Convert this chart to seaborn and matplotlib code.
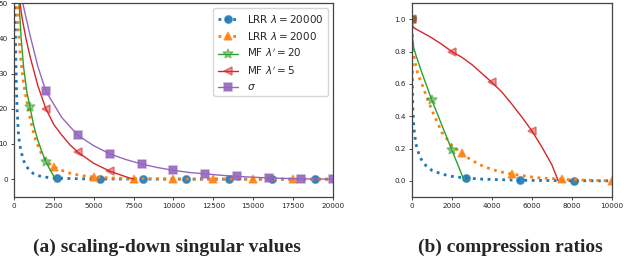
import numpy as np
import pandas as pd
import seaborn as sns
import matplotlib.pyplot as plt
from matplotlib.colors import to_rgba

# ---- series labels / styles
labels = [r"LRR $\lambda = 20000$", r"LRR $\lambda = 2000$",
          r"MF $\lambda' = 20$", r"MF $\lambda' = 5$", r"$\sigma$"]
colors = ["#1f77b4", "#ff7f0e", "#2ca02c", "#d62728", "#9467bd"]
markers = ["o", "^", "*", "<", "s"]
styles = [":", ":", "-", "-", "-"]

# ---- (a) scaling-down singular values
lrr20000_x = [30, 60, 100, 150, 200, 270, 350, 480, 600, 800, 1000, 1215, 1500, 1845, 2200,
              2700, 3300, 4000, 4700, 5400, 6700, 8100, 10800, 13500, 16200, 18900, 20000]
lrr20000_y = [80, 55, 38, 26, 19.5, 13.5, 10, 7.3, 5.3, 3.5, 2.4, 1.6, 1.0, 0.65, 0.45,
              0.3, 0.2, 0.12, 0.08, 0.06, 0.04, 0.02, 0.01, 0.0, 0.0, 0.0, 0.0]
lrr20000_marks = [2700, 5400, 8100, 10800, 13500, 16200, 18900]

lrr2000_x = [150, 210, 280, 400, 550, 700, 900, 1100, 1300, 1500, 1700, 1900, 2200, 2500,
             3000, 3500, 4000, 4500, 5000, 6000, 7500, 10000, 12500, 15000, 17500, 20000]
lrr2000_y = [62, 50, 42, 35, 29, 24.5, 20, 15.5, 12, 9.5, 7.5, 6, 4.5, 3.5,
             2.5, 1.7, 1.2, 0.85, 0.6, 0.35, 0.15, 0.06, 0.03, 0.015, 0.01, 0.0]
lrr2000_marks = [2500, 5000, 7500, 10000, 12500, 15000, 17500]

mf20_x = [250, 320, 450, 600, 800, 1000, 1250, 1500, 1750, 2000, 2200, 2400, 2600]
mf20_y = [60, 50, 40, 32, 25, 20.5, 15, 11, 7.8, 5, 3.2, 1.6, 0]
mf20_marks = [1000, 2000]

mf5_x = [300, 380, 500, 750, 1000, 1500, 2000, 2500, 3000, 3500, 4000, 5000, 6000, 6500, 7000, 7500]
mf5_y = [58, 50, 46, 40, 35, 26.5, 20, 15.5, 12.5, 9.8, 7.7, 4.5, 2.3, 1.5, 0.7, 0]
mf5_marks = [2000, 4000, 6000]

sigma_x = [400, 550, 750, 1000, 1500, 2000, 3000, 4000, 5000, 6000, 7000, 8000, 9000, 10000,
           11000, 12000, 13000, 14000, 15000, 16000, 17000, 18000, 19000, 20000]
sigma_y = [56, 50, 46, 41, 32, 25, 17.5, 12.5, 9.5, 7.2, 5.6, 4.3, 3.3, 2.5,
           1.9, 1.5, 1.1, 0.8, 0.55, 0.35, 0.2, 0.1, 0.04, 0]
sigma_marks = [2000, 4000, 6000, 8000, 10000, 12000, 14000, 16000, 18000, 20000]

# ---- (b) compression ratios
cr_lrr20000_x = [0, 10, 25, 50, 100, 200, 400, 700, 1000, 1500, 2000, 2700, 3500, 4500, 5400, 7000, 8100, 10000]
cr_lrr20000_y = [1.0, 0.8, 0.6, 0.45, 0.33, 0.23, 0.145, 0.095, 0.065, 0.042, 0.028, 0.017,
                 0.011, 0.007, 0.004, 0.002, 0.001, 0.0]
cr_lrr20000_marks = [0, 2700, 5400, 8100]

cr_lrr2000_x = [0, 30, 65, 150, 300, 500, 800, 1100, 1500, 2000, 2500, 2900, 3400, 3900, 4400,
                5000, 6200, 7500, 8800, 10000]
cr_lrr2000_y = [1.0, 0.88, 0.81, 0.74, 0.66, 0.6, 0.5, 0.41, 0.3, 0.22, 0.17, 0.135, 0.1, 0.075,
                0.057, 0.042, 0.02, 0.01, 0.004, 0.0]
cr_lrr2000_marks = [0, 2500, 5000, 7500, 10000]

cr_mf20_x = [0, 40, 100, 200, 500, 1000, 1500, 2000, 2300, 2620]
cr_mf20_y = [1.0, 0.88, 0.82, 0.78, 0.67, 0.5, 0.345, 0.19, 0.1, 0.0]
cr_mf20_marks = [0, 1000, 2000]

cr_mf5_x = [0, 50, 200, 500, 1000, 1500, 2000, 2500, 3000, 3500, 4000, 4500, 5000, 5500,
            6000, 6500, 7000, 7320]
cr_mf5_y = [1.0, 0.955, 0.94, 0.92, 0.885, 0.845, 0.80, 0.765, 0.72, 0.665, 0.61, 0.55, 0.475,
            0.395, 0.31, 0.21, 0.10, 0.0]
cr_mf5_marks = [0, 2000, 4000, 6000]

sns.set_style("ticks")
plt.rcParams["font.family"] = ["DejaVu Sans"]

fig = plt.figure(figsize=(6.24, 2.62), dpi=100)
ax1 = fig.add_axes([0.0224, 0.249, 0.511, 0.739])
ax2 = fig.add_axes([0.660, 0.248, 0.3205, 0.740])


def draw(ax, x, y, marks, i, label=None):
    df = pd.DataFrame({"x": x, "y": y})
    every = [x.index(m) for m in marks]
    solid = styles[i] == "-"
    sns.lineplot(data=df, x="x", y="y", ax=ax, sort=False, errorbar=None,
                 color=colors[i], ls=styles[i], lw=1.0 if solid else 2.0,
                 marker=markers[i], markevery=every,
                 ms=7 if markers[i] == "*" else 5.5,
                 mfc=to_rgba(colors[i], 0.45 if solid and i < 4 else 0.9),
                 mec=to_rgba(colors[i], 0.55), mew=1.1, label=label)


left = [(lrr20000_x, lrr20000_y, lrr20000_marks), (lrr2000_x, lrr2000_y, lrr2000_marks),
        (mf20_x, mf20_y, mf20_marks), (mf5_x, mf5_y, mf5_marks), (sigma_x, sigma_y, sigma_marks)]
for i, (x, y, m) in enumerate(left):
    draw(ax1, x, y, m, i, labels[i])

right = [(cr_lrr20000_x, cr_lrr20000_y, cr_lrr20000_marks), (cr_lrr2000_x, cr_lrr2000_y, cr_lrr2000_marks),
         (cr_mf20_x, cr_mf20_y, cr_mf20_marks), (cr_mf5_x, cr_mf5_y, cr_mf5_marks)]
for i, (x, y, m) in enumerate(right):
    draw(ax2, x, y, m, i)

ax1.set_xlim(0, 20000)
ax1.set_ylim(-5, 50)
ax1.set_xticks(np.arange(0, 20001, 2500))
ax1.set_yticks(np.arange(0, 51, 10))
ax2.set_xlim(0, 10000)
ax2.set_ylim(-0.1, 1.1)
ax2.set_xticks(np.arange(0, 10001, 2000))
ax2.set_yticks([0.0, 0.2, 0.4, 0.6, 0.8, 1.0])
ax2.set_yticklabels(["0.0", "0.2", "0.4", "0.6", "0.8", "1.0"])

for ax in (ax1, ax2):
    ax.set_xlabel("")
    ax.set_ylabel("")
    ax.tick_params(labelsize=5.2, length=2.5, width=0.6, pad=2)
    for s in ax.spines.values():
        s.set_linewidth(0.9)
        s.set_color("#444444")

ax1.legend(loc="upper right", fontsize=7.5, handlelength=2.0, borderaxespad=0.5)

fig.text(0.267, 0.055, "(a) scaling-down singular values", ha="center", va="center",
         family="Liberation Serif", weight="bold", fontsize=14)
fig.text(0.818, 0.055, "(b) compression ratios", ha="center", va="center",
         family="Liberation Serif", weight="bold", fontsize=14)

fig.savefig("out.png", dpi=100)
